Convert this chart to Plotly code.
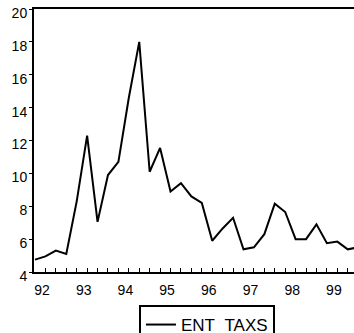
import plotly.graph_objects as go

# Quarterly data 1992Q1 .. 1999Q4
years = [1992, 1993, 1994, 1995, 1996, 1997, 1998, 1999]
ent_taxs = [4.75, 4.95, 5.3, 5.1,
            8.3, 12.3, 7.05, 9.9,
            10.7, 14.6, 18.0, 10.1,
            11.55, 8.9, 9.4, 8.6,
            8.2, 5.9, 6.65, 7.3,
            5.38, 5.5, 6.3, 8.15,
            7.65, 6.0, 6.0, 6.9,
            5.75, 5.85, 5.38, 5.5]
tick_labels = ["92", "93", "94", "95", "96", "97", "98", "99"]
y_ticks = [4, 6, 8, 10, 12, 14, 16, 18, 20]

x_vals = [years[0] + i / 4 for i in range(len(ent_taxs))]

fig = go.Figure()
fig.add_trace(go.Scatter(x=x_vals, y=ent_taxs, mode="lines", name="ENT_TAXS",
                         line=dict(color="black", width=2)))

fig.update_layout(
    width=354, height=333,
    margin=dict(l=34, r=0, t=9, b=61, autoexpand=False),
    paper_bgcolor="white", plot_bgcolor="white",
    font=dict(family="Liberation Sans, Arial, sans-serif", color="black", size=14),
    showlegend=True,
    legend=dict(orientation="h", x=0.328, y=1 - 305 / 333, yref="container",
                xanchor="left", yanchor="top",
                bordercolor="black", borderwidth=2, font=dict(size=17),
                bgcolor="white", itemwidth=30),
)

fig.update_xaxes(
    range=[1991.976, 1999.65],
    showgrid=False, zeroline=False,
    showline=True, linecolor="black", linewidth=2, mirror=True,
    tickmode="array", tickvals=years, ticktext=tick_labels,
    ticks="inside", ticklen=4, tickwidth=1, tickcolor="black",
    ticklabelshift=7, ticklabelstandoff=4,
    minor=dict(ticks="inside", dtick=0.25, tick0=1992, ticklen=4, tickwidth=1, tickcolor="black"),
)
fig.update_yaxes(
    range=[4, 20],
    showgrid=False, zeroline=False,
    showline=True, linecolor="black", linewidth=2,
    tickmode="array", tickvals=y_ticks,
    ticks="outside", ticklen=3, tickwidth=1, tickcolor="black",
    ticklabelshift=4, ticklabelstandoff=-1, ticklabeloverflow="allow",
)

fig.write_html("out.html")
